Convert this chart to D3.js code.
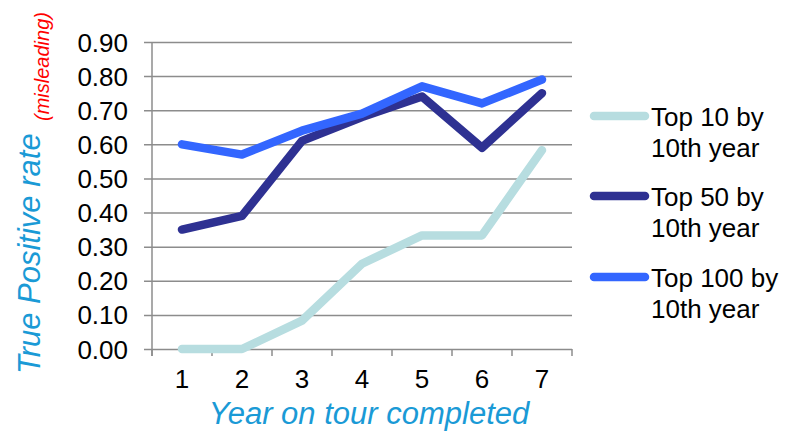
<!DOCTYPE html>
<html>
<head>
<meta charset="utf-8">
<script src="https://cdn.jsdelivr.net/npm/d3@7"></script>
<style>
  html, body { margin: 0; padding: 0; background: #fff; }
  svg { display: block; font-family: "Liberation Sans", Arial, sans-serif; }
</style>
</head>
<body>
<svg id="chart" width="788" height="431"></svg>
<script>
// Years on tour and true positive rate for each group
const years = ["1", "2", "3", "4", "5", "6", "7"];
const top10 = [0.00, 0.00, 0.083, 0.25, 0.333, 0.333, 0.583];
const top50 = [0.35, 0.39, 0.61, 0.68, 0.74, 0.59, 0.75];
const top100 = [0.60, 0.57, 0.64, 0.69, 0.77, 0.72, 0.79];
const yTicks = [0, 0.1, 0.2, 0.3, 0.4, 0.5, 0.6, 0.7, 0.8, 0.9];

const seriesNames = [["Top 10 by", "10th year"], ["Top 50 by", "10th year"], ["Top 100 by", "10th year"]];
const seriesColors = ["#b7dde0", "#2e3192", "#3366ff"];
const seriesValues = [top10, top50, top100];

const svg = d3.select("#chart");
const plot = { left: 152, right: 572, top: 42, bottom: 349 };

const x = d3.scaleBand().domain(years).range([plot.left, plot.right]);
const y = d3.scaleLinear().domain([0, 0.9]).range([plot.bottom, plot.top]);

const gridColor = "#8c8c8c";
const labelSize = 26;

// Horizontal gridlines with outside ticks
const yAxis = d3.axisLeft(y).tickValues(yTicks).tickFormat(d3.format(".2f"))
  .tickSize(-(plot.right - plot.left)).tickPadding(24);
const gy = svg.append("g").attr("transform", `translate(${plot.left},0)`).call(yAxis);
gy.select(".domain").remove();
gy.selectAll(".tick line").attr("stroke", gridColor).attr("stroke-width", 1.5).attr("x1", -8);
gy.selectAll(".tick text").attr("fill", "#000").attr("font-size", labelSize)
  .attr("font-family", "Liberation Sans, Arial, sans-serif").attr("dy", "0.35em");

// Vertical axis line
svg.append("line").attr("x1", plot.left).attr("x2", plot.left)
  .attr("y1", plot.top).attr("y2", plot.bottom + 7)
  .attr("stroke", gridColor).attr("stroke-width", 1.5);

// Category axis: ticks at band boundaries, labels at band centers
const xAxis = d3.axisBottom(x).tickSize(0).tickPadding(21);
const gx = svg.append("g").attr("transform", `translate(0,${plot.bottom})`).call(xAxis);
gx.select(".domain").remove();
gx.selectAll(".tick text").attr("fill", "#000").attr("font-size", labelSize)
  .attr("font-family", "Liberation Sans, Arial, sans-serif");
const bounds = years.map(d => x(d)).concat([x(years[years.length - 1]) + x.bandwidth()]);
svg.append("g").selectAll("line").data(bounds).join("line")
  .attr("x1", d => d).attr("x2", d => d)
  .attr("y1", plot.bottom).attr("y2", plot.bottom + 7)
  .attr("stroke", gridColor).attr("stroke-width", 1.5);

// Series lines
const line = d3.line()
  .x((d, i) => x(years[i]) + x.bandwidth() / 2)
  .y(d => y(d));
seriesValues.forEach((vals, k) => {
  svg.append("path").datum(vals)
    .attr("d", line)
    .attr("fill", "none")
    .attr("stroke", seriesColors[k])
    .attr("stroke-width", 8.5)
    .attr("stroke-linecap", "round")
    .attr("stroke-linejoin", "round");
});

// Legend
const legendY = [116, 196, 277];
const lg = svg.append("g");
seriesNames.forEach((lines, k) => {
  const ly = legendY[k];
  lg.append("line").attr("x1", 594).attr("x2", 645).attr("y1", ly).attr("y2", ly)
    .attr("stroke", seriesColors[k]).attr("stroke-width", 8.5).attr("stroke-linecap", "round");
  const t = lg.append("text").attr("x", 651).attr("y", ly + 10)
    .attr("font-size", labelSize).attr("fill", "#000");
  t.append("tspan").attr("x", 651).text(lines[0]);
  t.append("tspan").attr("x", 651).attr("dy", 31).text(lines[1]);
});

// Axis titles
svg.append("text").attr("x", 369).attr("y", 424)
  .attr("text-anchor", "middle").attr("font-size", 31).attr("font-style", "italic")
  .attr("fill", "#1a9ad6").text("Year on tour completed");

svg.append("text").attr("transform", "translate(40,374) rotate(-90)")
  .attr("font-size", 31).attr("font-style", "italic")
  .attr("fill", "#1a9ad6").text("True Positive rate");

svg.append("text").attr("transform", "translate(49,121) rotate(-90)")
  .attr("font-size", 20).attr("font-style", "italic")
  .attr("fill", "#ff0000").text("(misleading)");
</script>
</body>
</html>
